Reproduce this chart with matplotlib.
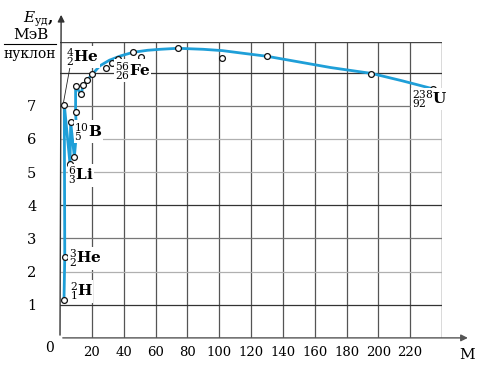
import matplotlib
matplotlib.use("Agg")
import matplotlib.pyplot as plt

plt.rcParams['font.family'] = ['DejaVu Serif']
plt.rcParams['mathtext.fontset'] = 'dejavuserif'

# Data
point_m = [2.5, 3.0, 2.7, 6.3, 9.0, 6.7, 9.8, 10.4, 9.8, 13.2, 14.6, 17.1, 20.3,
           28.6, 32.8, 36.6, 45.6, 50.7, 74.0, 101.6, 130.0, 195.7, 234.6]
point_e = [1.14, 2.44, 7.03, 5.24, 5.46, 6.50, 6.80, 6.18, 7.60, 7.34, 7.62, 7.77, 7.95,
           8.14, 8.30, 8.40, 8.62, 8.47, 8.73, 8.43, 8.49, 7.95, 7.50]

curve_m = [2.5, 3.0, 2.7, 6.3, 6.7, 9.0, 10.4, 9.8, 9.8, 13.2, 14.6, 17.1, 20.3,
           25, 31, 38, 46, 55, 63, 74, 90, 102, 115, 130, 150, 170, 196, 215, 235]
curve_e = [1.14, 2.44, 7.03, 5.24, 6.50, 5.46, 6.18, 6.80, 7.60, 7.34, 7.62, 7.77, 7.95,
           8.20, 8.37, 8.50, 8.61, 8.67, 8.70, 8.73, 8.70, 8.66, 8.58, 8.49, 8.32, 8.15, 7.97, 7.75, 7.50]

x_ticks = [20, 40, 60, 80, 100, 120, 140, 160, 180, 200, 220]
y_ticks = [1, 2, 3, 4, 5, 6, 7]

labels = [
    (r'$^{4}_{2}$He', 4.0, 8.47),
    (r'$^{3}_{2}$He', 5.5, 2.40),
    (r'$^{2}_{1}$H', 6.0, 1.40),
    (r'$^{6}_{3}$Li', 5.0, 4.90),
    (r'$^{10}_{5}$B', 8.8, 6.22),
    (r'$^{56}_{26}$Fe', 34.5, 8.05),
    (r'$^{238}_{92}$U', 221.0, 7.20),
]

fig = plt.figure(figsize=(5.0, 3.72), dpi=100)
ax = fig.add_axes([0.12, 0.0917, 0.764, 0.7963])
ymax = 8.93
ax.set_xlim(0, 240)
ax.set_ylim(0, ymax)

for s in ax.spines.values():
    s.set_visible(False)

# grid
for xv in x_ticks:
    ax.axvline(xv, color='#555555', lw=0.9, zorder=1)
ax.axvline(240, color='#444444', lw=1.0, zorder=1)
for yv in range(1, 9):
    c = '#333333' if yv in (1, 4, 8) else ('#777777' if yv in (3, 7) else '#b0b0b0')
    ax.axhline(yv, color=c, lw=0.9, zorder=1)
ax.axhline(ymax, color='#444444', lw=1.0, zorder=1)

ax.set_xticks(x_ticks)
ax.set_yticks(y_ticks)
ax.tick_params(length=0, labelsize=10)
ax.tick_params(axis='x', pad=6, labelsize=9.5)
ax.tick_params(axis='y', pad=17, labelsize=10.5)

# curve and points
ax.plot(curve_m, curve_e, color='#1f9fd8', lw=2.0, zorder=3, solid_joinstyle='round')
ax.plot(point_m, point_e, 'o', ms=4.2, mfc='white', mec='#111111', mew=0.9, zorder=4)

for txt, xm, ye in labels:
    ax.text(xm, ye, txt, fontsize=11, fontweight='bold', va='center', ha='left',
            zorder=5, bbox=dict(facecolor='white', edgecolor='none', pad=0.3))

# leader line for He-4
ax.plot([2.2, 6.3], [7.1, 8.17], color='#222222', lw=0.6, zorder=4)

# axes arrows
ax.annotate('', xy=(1.075, 0), xytext=(0, 0), xycoords='axes fraction',
            arrowprops=dict(arrowstyle='-|>', color='#555555', lw=1.0, mutation_scale=10),
            annotation_clip=False)
ax.annotate('', xy=(0.003, 1.10), xytext=(0, 0), xycoords='axes fraction',
            arrowprops=dict(arrowstyle='-|>', color='#333333', lw=1.0, mutation_scale=10),
            annotation_clip=False)

# texts in pixel-based figure coords
def fx(px):
    return px / 500.0

def fy(py):
    return 1 - py / 372.0

fig.text(fx(50), fy(348), '0', fontsize=10, ha='center', va='center')
fig.text(fx(467), fy(355), 'M', fontsize=11, ha='center', va='center')
fig.text(fx(38), fy(19), r'$E_{\mathrm{уд}}$,', fontsize=11, ha='center', va='center',
         fontweight='bold')
fig.text(fx(31), fy(35), 'МэВ', fontsize=11, ha='center', va='center')
fig.add_artist(plt.Line2D([fx(4), fx(56)], [fy(44), fy(44)], color='black', lw=0.8))
fig.text(fx(30), fy(54), 'нуклон', fontsize=10, ha='center', va='center')

fig.savefig('out.png', dpi=100)
